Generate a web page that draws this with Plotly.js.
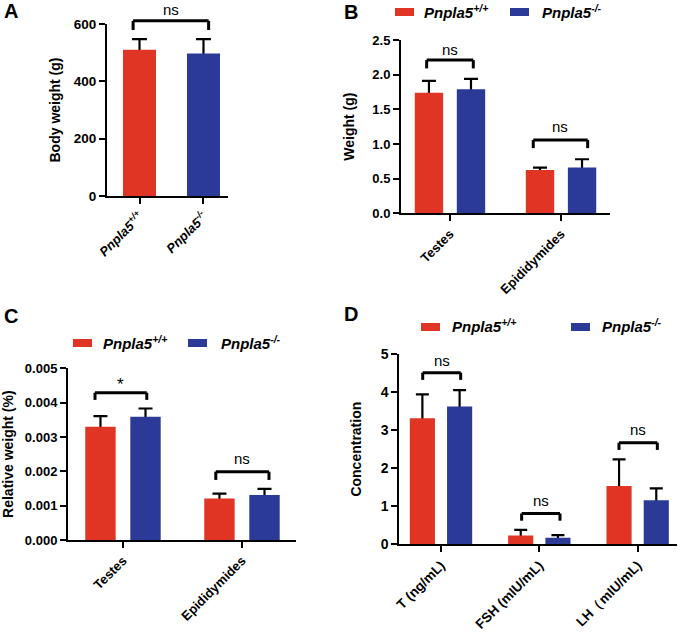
<!DOCTYPE html>
<html>
<head>
<meta charset="utf-8">
<script src="https://cdn.plot.ly/plotly-3.0.1.min.js"></script>
<style>html,body{margin:0;padding:0;background:#fff;}#chart{width:685px;height:633px;}</style>
</head>
<body>
<div id="chart"></div>
<script>
// ---------- data ----------
var seriesNames = ['Pnpla5<sup>+/+</sup>', 'Pnpla5<sup>-/-</sup>'];
var seriesColors = ['#E03424', '#2C3A97'];

// Panel A: body weight (g)
var genotypeLabels = ['<i>Pnpla5<sup>+/+</sup></i>', '<i>Pnpla5<sup>-/-</sup></i>'];
var bodyWeightMean = [510, 497];
var bodyWeightSD = [37, 50];

// Panel B: organ weight (g)
var organCategories = ['Testes', 'Epididymides'];
var weightWT = [1.74, 0.625];
var weightWTsd = [0.17, 0.035];
var weightKO = [1.79, 0.66];
var weightKOsd = [0.15, 0.12];

// Panel C: relative weight (%)
var relWT = [0.00330, 0.00121];
var relWTsd = [0.00031, 0.00014];
var relKO = [0.00359, 0.00131];
var relKOsd = [0.00024, 0.00018];

// Panel D: hormone concentrations
var hormoneCategories = ['T (ng/mL)', 'FSH (mIU/mL)', 'LH\uFF08mIU/mL)'];
var concWT = [3.31, 0.23, 1.53];
var concWTsd = [0.63, 0.15, 0.70];
var concKO = [3.62, 0.17, 1.16];
var concKOsd = [0.43, 0.07, 0.31];

// significance labels
var sigA = ['ns'];
var sigB = ['ns', 'ns'];
var sigC = ['*', 'ns'];
var sigD = ['ns', 'ns', 'ns'];

// ---------- layout helpers ----------
var W = 685, H = 633;
var FONT = 'Liberation Sans, Arial, sans-serif';
function px2x(p) { return p / W; }
function px2y(p) { return 1 - p / H; }

var axes = {
  A: {xd: [px2x(107), px2x(228)], yd: [px2y(196), px2y(24)], xr: [-0.508, 1.383], yr: [0, 600]},
  B: {xd: [px2x(401), px2x(610)], yd: [px2y(213.3), px2y(40)], xr: [-0.441, 1.441], yr: [0, 2.5]},
  C: {xd: [px2x(68), px2x(296)], yd: [px2y(540), px2y(368.3)], xr: [-0.462, 1.454], yr: [0, 0.005]},
  D: {xd: [px2x(399.3), px2x(677)], yd: [px2y(544.3), px2y(354)], xr: [-0.424, 2.40], yr: [0, 5]}
};
function toPaperX(a, v) { var A = axes[a]; return A.xd[0] + (v - A.xr[0]) / (A.xr[1] - A.xr[0]) * (A.xd[1] - A.xd[0]); }
function toPaperY(a, v) { var A = axes[a]; return A.yd[0] + (v - A.yr[0]) / (A.yr[1] - A.yr[0]) * (A.yd[1] - A.yd[0]); }

// each series = hidden bar carrying the error bar, then the visible bar drawn over it (same offsetgroup)
var traces = [];
function series(x, y, sd, color, xa, ya, group, capw, width) {
  var base = {type: 'bar', x: x, y: y, xaxis: xa, yaxis: ya, offsetgroup: group, showlegend: false, hoverinfo: 'skip'};
  if (width) base.width = width;
  var err = Object.assign({}, base, {marker: {color: 'rgba(0,0,0,0)', line: {width: 0}},
    error_y: {type: 'data', array: sd, symmetric: true, color: '#000', thickness: 2.2, width: capw, visible: true}});
  var bar = Object.assign({}, base, {marker: {color: color, line: {width: 0}}});
  traces.push(err);
  traces.push(bar);
}
series(genotypeLabels, bodyWeightMean, bodyWeightSD, seriesColors, 'x', 'y', 'a', 7.5, 0.516);
series(organCategories, weightWT, weightWTsd, seriesColors[0], 'x2', 'y2', 'wt', 7);
series(organCategories, weightKO, weightKOsd, seriesColors[1], 'x2', 'y2', 'ko', 7);
series(organCategories, relWT, relWTsd, seriesColors[0], 'x3', 'y3', 'wt', 7);
series(organCategories, relKO, relKOsd, seriesColors[1], 'x3', 'y3', 'ko', 7);
series(hormoneCategories, concWT, concWTsd, seriesColors[0], 'x4', 'y4', 'wt', 6.5);
series(hormoneCategories, concKO, concKOsd, seriesColors[1], 'x4', 'y4', 'ko', 6.5);

var titleFont = {family: FONT, size: 14, color: '#000', weight: 'bold'};

function xAxis(a, anchor, fsize) {
  return {domain: axes[a].xd, range: axes[a].xr, anchor: anchor, type: 'category',
    showline: true, linecolor: '#000', linewidth: 2, ticks: 'outside', ticklen: 6, tickwidth: 2, tickcolor: '#000',
    showgrid: false, zeroline: false, tickangle: -45,
    tickfont: {family: FONT, size: fsize, color: '#000', weight: 'bold'}, fixedrange: true};
}
function yAxis(a, anchor, title, dtick, fmt, standoff, fsize) {
  return {domain: axes[a].yd, range: axes[a].yr, anchor: anchor,
    showline: true, linecolor: '#000', linewidth: 2, ticks: 'outside', ticklen: 6, tickwidth: 2, tickcolor: '#000',
    showgrid: false, zeroline: false, dtick: dtick, tick0: 0, tickformat: fmt,
    tickfont: {family: FONT, size: fsize, color: '#000', weight: 'bold'},
    title: {text: title, font: titleFont, standoff: standoff}, fixedrange: true};
}

var shapes = [], annotations = [];

// panel letters
[['A', 2, 11], ['B', 342, 12], ['C', 2, 316], ['D', 342, 314]].forEach(function (p) {
  annotations.push({xref: 'paper', yref: 'paper', x: px2x(p[1]), y: px2y(p[2]), xanchor: 'left', yanchor: 'middle',
    text: p[0], showarrow: false, font: {family: FONT, size: 20, color: '#000', weight: 'bold'}});
});

// significance brackets
function bracket(a, x0, x1, yTop, yBot, yText, label) {
  var X0 = toPaperX(a, x0), X1 = toPaperX(a, x1), YT = toPaperY(a, yTop), YB = toPaperY(a, yBot);
  var ln = {color: '#000', width: 3};
  shapes.push({type: 'line', xref: 'paper', yref: 'paper', x0: X0, x1: X1, y0: YT, y1: YT, line: ln});
  shapes.push({type: 'line', xref: 'paper', yref: 'paper', x0: X0, x1: X0, y0: YT, y1: YB, line: ln});
  shapes.push({type: 'line', xref: 'paper', yref: 'paper', x0: X1, x1: X1, y0: YT, y1: YB, line: ln});
  annotations.push({xref: 'paper', yref: 'paper', x: (X0 + X1) / 2, y: toPaperY(a, yText), xanchor: 'center', yanchor: 'middle',
    text: label, showarrow: false, font: {family: FONT, size: label === '*' ? 17 : 15, color: '#000'}});
}
bracket('A', -0.10, 1.08, 611, 579, 652, sigA[0]);
bracket('B', -0.21, 0.21, 2.21, 2.09, 2.37, sigB[0]);
bracket('B', 0.75, 1.24, 1.058, 0.94, 1.25, sigB[1]);
bracket('C', -0.235, 0.20, 0.00429, 0.00408, 0.00452, sigC[0]);
bracket('C', 0.78, 1.227, 0.00199, 0.00175, 0.00237, sigC[1]);
bracket('D', -0.186, 0.20, 4.51, 4.32, 4.82, sigD[0]);
bracket('D', 0.82, 1.21, 0.81, 0.62, 1.14, sigD[1]);
bracket('D', 1.81, 2.20, 2.67, 2.48, 3.02, sigD[2]);

// legends
function legend(items) {
  items.forEach(function (it, i) {
    shapes.push({type: 'rect', xref: 'paper', yref: 'paper', x0: px2x(it[0]), x1: px2x(it[1]),
      y0: px2y(it[3]), y1: px2y(it[4]), fillcolor: seriesColors[i], line: {width: 0}});
    annotations.push({xref: 'paper', yref: 'paper', x: px2x(it[2]), y: px2y((it[3] + it[4]) / 2 - 1),
      xanchor: 'left', yanchor: 'middle', showarrow: false,
      text: '<i>' + seriesNames[i] + '</i>', font: {family: FONT, size: 15, color: '#000', weight: 'bold'}});
  });
}
legend([[395, 414, 422, 8, 16], [510, 529, 540, 8, 16]]);
legend([[73, 92, 101, 339, 347], [188, 207, 219, 339, 347]]);
legend([[421, 440, 450, 323, 331], [571, 590, 600, 323, 331]]);

var layout = {
  width: W, height: H, margin: {l: 0, r: 0, t: 0, b: 0},
  paper_bgcolor: '#fff', plot_bgcolor: '#fff', showlegend: false,
  barmode: 'group', bargap: 0.243, bargroupgap: 0.325,
  font: {family: FONT, color: '#000'},
  xaxis: xAxis('A', 'y', 13), yaxis: yAxis('A', 'x', 'Body weight (g)', 200, 'd', 10, 13.5),
  xaxis2: xAxis('B', 'y2', 13), yaxis2: yAxis('B', 'x2', 'Weight (g)', 0.5, '.1f', 14, 13),
  xaxis3: xAxis('C', 'y3', 13), yaxis3: yAxis('C', 'x3', 'Relative weight (%)', 0.001, '.3f', 12, 13),
  xaxis4: xAxis('D', 'y4', 13.5), yaxis4: yAxis('D', 'x4', 'Concentration', 1, 'd', 16, 14),
  shapes: shapes, annotations: annotations
};

Plotly.newPlot('chart', traces, layout, {displayModeBar: false, staticPlot: true});
</script>
</body>
</html>
